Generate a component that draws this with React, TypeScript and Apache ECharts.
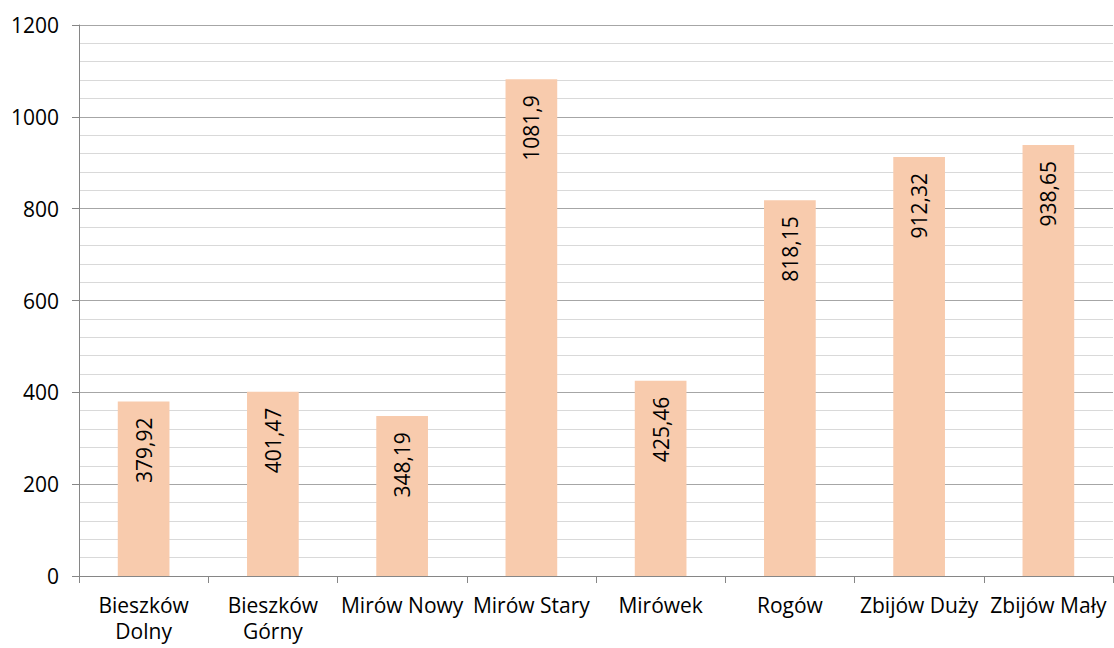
import React, { useEffect, useRef } from "react";
import * as echarts from "echarts";

const categories = [
  "Bieszków\nDolny",
  "Bieszków\nGórny",
  "Mirów Nowy",
  "Mirów Stary",
  "Mirówek",
  "Rogów",
  "Zbijów Duży",
  "Zbijów Mały",
];
const values = [379.92, 401.47, 348.19, 1081.9, 425.46, 818.15, 912.32, 938.65];

const FONT = "'Open Sans', sans-serif";

export default function App() {
  const ref = useRef<HTMLDivElement>(null);
  useEffect(() => {
    if (!ref.current) return;
    const chart = echarts.init(ref.current, null, { renderer: "svg" });
    chart.setOption({
      animation: false,
      backgroundColor: "#ffffff",
      textStyle: { fontFamily: FONT },
      grid: { left: 79, right: 1, top: 25, bottom: 72, containLabel: false },
      xAxis: {
        type: "category",
        data: categories,
        boundaryGap: true,
        axisLine: { show: true, lineStyle: { color: "#868686", width: 1 } },
        axisTick: { show: true, alignWithLabel: false, length: 7, lineStyle: { color: "#868686" } },
        axisLabel: {
          color: "#000",
          fontSize: 21,
          fontFamily: FONT,
          margin: 16,
          lineHeight: 26,
          interval: 0,
        },
      },
      yAxis: {
        type: "value",
        min: 0,
        max: 1200,
        interval: 200,
        axisLine: { show: true, lineStyle: { color: "#868686", width: 1 } },
        axisTick: { show: true, length: 7, lineStyle: { color: "#868686" } },
        axisLabel: {
          color: "#000",
          fontSize: 21,
          fontFamily: FONT,
          margin: 20,
          formatter: (v: number) => String(v),
        },
        splitLine: { show: true, lineStyle: { color: "#a6a6a6", width: 1 } },
        minorTick: { show: false, splitNumber: 5 },
        minorSplitLine: { show: true, lineStyle: { color: "#d9d9d9", width: 1 } },
      },
      series: [
        {
          type: "bar",
          data: values,
          barWidth: "40%",
          itemStyle: { color: "#F8CBAD" },
          label: {
            show: true,
            position: "insideTop",
            rotate: 90,
            align: "right",
            verticalAlign: "middle",
            distance: 16,
            color: "#000",
            fontSize: 21,
            fontFamily: FONT,
            formatter: (p: any) => String(p.value).replace(".", ","),
          },
        },
      ],
    });
    return () => chart.dispose();
  }, []);
  return (
    <div
      ref={ref}
      style={{ position: "fixed", left: 0, top: 0, width: 1114, height: 648 }}
    />
  );
}
